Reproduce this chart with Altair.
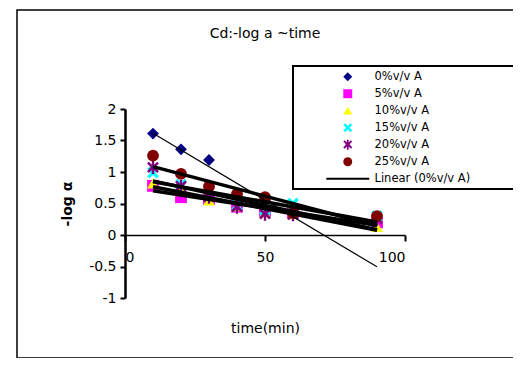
import altair as alt
import pandas as pd

# ---- data ----
times = [10, 20, 30, 40, 50, 60, 90]
times_0 = [10, 20, 30, 40, 50, 60]
s0 = [1.61, 1.36, 1.19, 0.65, 0.55, 0.35]
s5 = [0.78, 0.60, 0.57, 0.45, 0.38, 0.36, 0.20]
s10 = [0.82, 0.72, 0.55, 0.46, 0.36, 0.33, 0.13]
s15 = [0.99, 0.80, 0.62, 0.47, 0.40, 0.50, 0.30]
s20 = [1.07, 0.77, 0.60, 0.44, 0.33, 0.32, 0.25]
s25 = [1.26, 0.97, 0.77, 0.65, 0.60, 0.35, 0.30]

series_names = ["0%v/v A", "5%v/v A", "10%v/v A", "15%v/v A", "20%v/v A", "25%v/v A"]
linear_name = "Linear (0%v/v A)"
colors = ["#000080", "#FF00FF", "#FFFF00", "#00FFFF", "#800080", "#800000", "#000000"]
x_ticks = [0, 50, 100]
y_ticks = [-1, -0.5, 0, 0.5, 1, 1.5, 2]

X_SHAPE = ("M-1,-0.6L-0.6,-1L0,-0.4L0.6,-1L1,-0.6L0.4,0L1,0.6L0.6,1L0,0.4"
           "L-0.6,1L-1,0.6L-0.4,0Z")
STAR_SHAPE = ("M-1,-0.7L-0.7,-1L-0.2,-0.5V-1.1H0.2V-0.5L0.7,-1L1,-0.7L0.4,-0.1"
              "L1,0.6L0.7,0.9L0.2,0.4V1.1H-0.2V0.4L-0.7,0.9L-1,0.6L-0.4,-0.1Z")
LINE_SHAPE = "M-4.8,-0.25H4.8V0.25H-4.8Z"
shapes = ["diamond", "square", "triangle-up", X_SHAPE, STAR_SHAPE, "circle", LINE_SHAPE]

rows = []
for t, v in zip(times_0, s0):
    rows.append({"time": t, "val": v, "series": series_names[0], "order": 0})
for k, vals in enumerate([s5, s10, s15, s20, s25], start=1):
    for t, v in zip(times, vals):
        rows.append({"time": t, "val": v, "series": series_names[k], "order": k})
df = pd.DataFrame(rows)

FONT = "DejaVu Sans"
domain = series_names + [linear_name]

xscale = alt.Scale(domain=[0, 100], nice=False, zero=False)
yscale = alt.Scale(domain=[-1, 2], nice=False, zero=False)

x_axis = alt.Axis(values=x_ticks, offset=-63, title="time(min)",
                  titleY=93, titleBaseline="middle", titleFontWeight="normal",
                  titleFontSize=14, titleFont=FONT, labelFont=FONT,
                  labelFontSize=14, labelPadding=9, tickSize=6,
                  labelOverlap=False,
                  domainColor="black", tickColor="black", domainWidth=1.5,
                  tickWidth=2, labelColor="black", titleColor="black",
                  grid=False)
y_axis = alt.Axis(values=y_ticks, title="-log α", titleFont=FONT,
                  titleFontSize=14, titleFontWeight="bold", titlePadding=14,
                  labelFont=FONT, labelFontSize=14, labelPadding=4,
                  labelOverlap=False,
                  labelExpr="datum.value + ''", tickSize=5,
                  domainColor="black", tickColor="black", domainWidth=2.5,
                  tickWidth=2, labelColor="black", titleColor="black",
                  grid=False)

legend_props = dict(title=None, orient="none", legendX=168, legendY=-43,
                    padding=5, symbolSize=80,
                    symbolOffset=44, labelOffset=21, rowPadding=4,
                    labelFont=FONT, labelFontSize=11.5, labelColor="black",
                    labelLimit=400, symbolStrokeWidth=0)

frame = alt.Chart(pd.DataFrame({"a": [0]})).mark_rect(
    fillOpacity=0, stroke="black", strokeWidth=1.5
).encode(
    x=alt.value(-108), x2=alt.value(420), y=alt.value(-99), y2=alt.value(249)
)

# border of the legend box, which runs on past the picture's right edge
legend_box = alt.Chart(pd.DataFrame({"a": [0]})).mark_rect(
    fillOpacity=0, stroke="black", strokeWidth=2
).encode(
    x=alt.value(168), x2=alt.value(420), y=alt.value(-43), y2=alt.value(80)
)

points = alt.Chart(df).mark_point(filled=True, opacity=1, size=140).encode(
    x=alt.X("time:Q", scale=xscale, axis=x_axis),
    y=alt.Y("val:Q", scale=yscale, axis=y_axis),
    color=alt.Color("series:N", scale=alt.Scale(domain=domain, range=colors),
                    legend=alt.Legend(**legend_props)),
    shape=alt.Shape("series:N", scale=alt.Scale(domain=domain, range=shapes),
                    legend=alt.Legend(**legend_props)),
    order=alt.Order("order:Q"),
)

trend0 = alt.Chart(df[df["order"] == 0]).transform_regression(
    "time", "val", extent=[10, 90]
).mark_line(color="black", strokeWidth=1.2).encode(
    x=alt.X("time:Q", scale=xscale, axis=x_axis),
    y=alt.Y("val:Q", scale=yscale, axis=y_axis)
)

trends = alt.Chart(df[df["order"] > 0]).transform_regression(
    "time", "val", groupby=["series"], extent=[10, 90]
).mark_line(color="black", strokeWidth=3.5).encode(
    x=alt.X("time:Q", scale=xscale, axis=x_axis),
    y=alt.Y("val:Q", scale=yscale, axis=y_axis),
    detail="series:N"
)

chart = alt.layer(frame, legend_box, points, trends, trend0).properties(
    width=280, height=189,
    autosize=alt.AutoSizeParams(type="none"),
    padding={"left": 117, "top": 101, "right": 108, "bottom": 60},
    title=alt.TitleParams("Cd:-log a ~time", font=FONT, fontSize=14,
                          fontWeight="normal", color="black", anchor="middle",
                          offset=-32),
).configure_view(stroke=None)

chart.save("out.html", embed_options={"renderer": "svg", "actions": False})
